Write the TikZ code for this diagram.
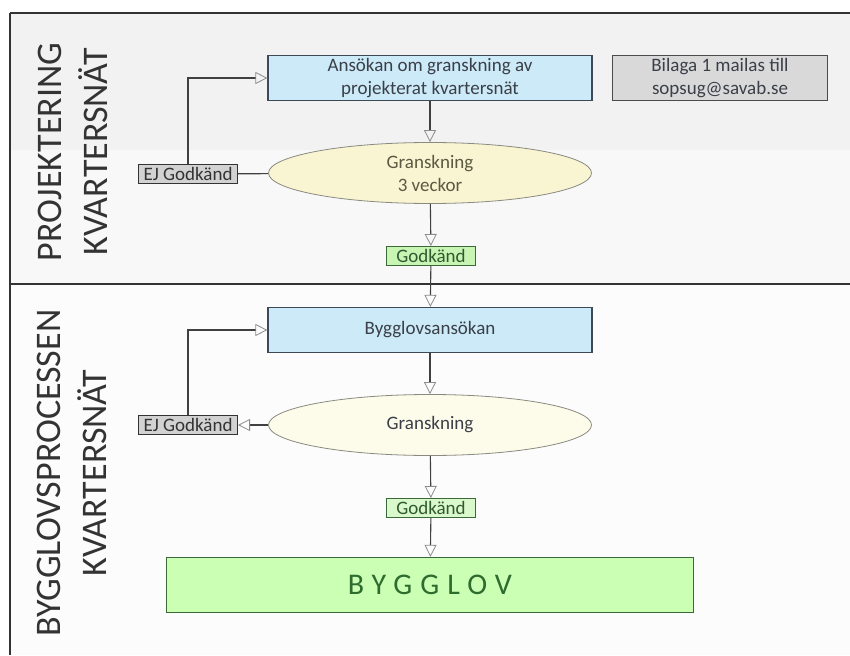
\documentclass[tikz,border=0pt]{standalone}
\usepackage{fontspec}
\setmainfont{Carlito}
\newfontfamily\spacedfont{Carlito}[LetterSpace=27]
\usetikzlibrary{arrows.meta,shapes.geometric}
\definecolor{bandtop}{HTML}{F2F2F2}
\definecolor{bandlow}{HTML}{F8F8F8}
\definecolor{bandsec}{HTML}{FCFCFC}
\definecolor{boxblue}{HTML}{CCEAF7}
\definecolor{boxline}{HTML}{3C4A58}
\definecolor{textgray}{HTML}{3A3F48}
\definecolor{ellfill}{HTML}{F9F4D2}
\definecolor{ellfilltwo}{HTML}{FDFBEA}
\definecolor{ellline}{HTML}{8A8A80}
\definecolor{elltext}{HTML}{5A5A42}
\definecolor{okgreen}{HTML}{C8F5B4}
\definecolor{okline}{HTML}{3A6A3A}
\definecolor{oktext}{HTML}{2F5A2F}
\definecolor{nogray}{HTML}{D2D2D2}
\definecolor{notegray}{HTML}{D9D9D9}
\definecolor{linegray}{HTML}{404040}
\definecolor{tipgray}{HTML}{8C8C8C}
\definecolor{finalgreen}{HTML}{CAFFB4}
\definecolor{finaltext}{HTML}{2E6B2E}
\tikzset{
  proc/.style={draw=boxline, fill=boxblue, line width=1.2pt, minimum width=324pt, minimum height=45pt, inner sep=0pt, align=center, text=textgray},
  check/.style={ellipse, draw=ellline, fill=ellfill, line width=0.8pt, minimum width=323pt, minimum height=61pt, inner sep=0pt, align=center, text=elltext},
  okbox/.style={draw=okline, fill=okgreen, line width=1pt, minimum width=89pt, minimum height=19pt, inner sep=0pt, text=oktext},
  nobox/.style={draw=black!80, fill=nogray, line width=1pt, minimum width=99pt, minimum height=19pt, inner sep=0pt, text=black!80},
  lane/.style={rotate=90, align=center, font=\fontsize{36}{46}\selectfont, text=black!80},
  link/.style={draw=linegray, line width=1.1pt},
  flow/.style={link, -{Triangle[open, length=12pt, width=12pt, line width=0.8pt, color=tipgray]}},
}
\begin{document}
\begin{tikzpicture}[x=1pt, y=-1pt, font=\fontsize{19}{23}\selectfont]
\useasboundingbox (0,0) rectangle (850,655);
% swimlanes
\fill[white] (0,0) rectangle (850,655);
\fill[bandtop] (10,13) rectangle (850,150);
\fill[bandlow] (10,150) rectangle (850,284);
\fill[bandsec] (10,284) rectangle (850,655);
\draw[black!80, line width=1.5pt] (10,13) -- (850,13);
\draw[black!80, line width=1.5pt] (10,13) -- (10,655);
\draw[black!80, line width=2pt] (10,284) -- (850,284);
\node[lane] (laneone) at (73,152) {PROJEKTERING\\KVARTERSNÄT};
\node[lane] (lanetwo) at (72,473) {BYGGLOVSPROCESSEN\\KVARTERSNÄT};
% projektering
\node[proc] (ansokan) at (430,78) {Ansökan om granskning av\\projekterat kvartersnät};
\node[draw=black!70, fill=notegray, line width=1pt, minimum width=215pt, minimum height=45pt, inner sep=0pt, align=center, text=textgray] (bilaga) at (720,78) {Bilaga 1 mailas till\\sopsug@savab.se};
\node[check] (granone) at (430,173) {Granskning\\3 veckor};
\node[okbox] (okone) at (431,256) {Godkänd};
\node[nobox] (ejone) at (188,174) {EJ Godkänd};
\draw[flow] (ansokan) -- (granone);
\draw[flow] (granone) -- (okone);
\draw[link] (granone) -- (ejone);
\draw[flow] (ejone.north) |- (ansokan.west);
% bygglov
\node[proc] (ansokantwo) at (430,330) {Bygglovsansökan};
\node[check, fill=ellfilltwo, text=textgray] (grantwo) at (430,425) {Granskning};
\node[okbox, fill=okgreen!70] (oktwo) at (431,508) {Godkänd};
\node[nobox] (ejtwo) at (188,425) {EJ Godkänd};
\node[draw=okline, fill=finalgreen, line width=1.2pt, minimum width=527pt, minimum height=55pt, inner sep=0pt, text=finaltext, font=\spacedfont\fontsize{30}{34}\selectfont] (bygglov) at (430,585) {BYGGLOV};
\draw[flow] (okone) -- (ansokantwo);
\draw[flow] (ansokantwo) -- (grantwo);
\draw[flow] (grantwo) -- (oktwo);
\draw[flow] (grantwo) -- (ejtwo);
\draw[flow] (ejtwo.north) |- (ansokantwo.west);
\draw[flow] (oktwo) -- (bygglov);
\end{tikzpicture}
\end{document}
